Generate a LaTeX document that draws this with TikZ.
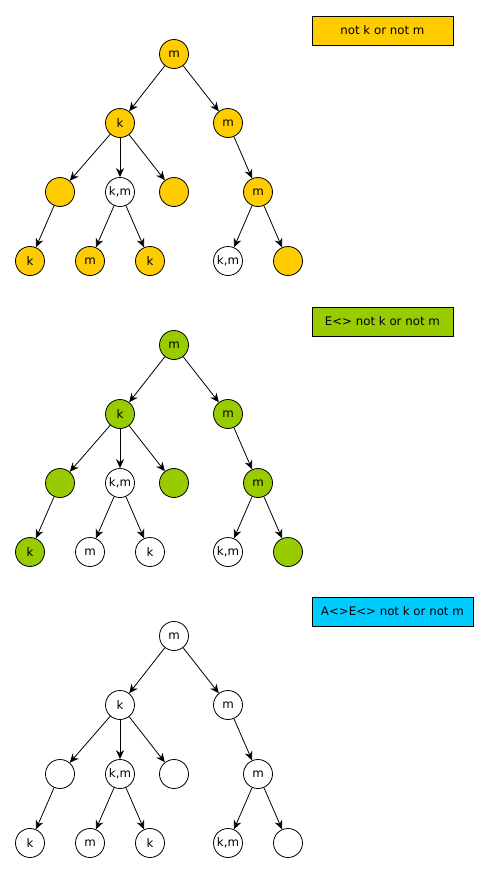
\documentclass[tikz,border=0pt]{standalone}
\usepackage{fontspec}
\setmainfont{DejaVu Sans}
\usetikzlibrary{arrows.meta}
\definecolor{amber}{HTML}{FFCC00}
\definecolor{lime}{HTML}{99CC00}
\definecolor{sky}{HTML}{00CCFF}
\tikzset{
  nd/.style={circle, draw=black, line width=0.8pt, fill=white, minimum size=29pt, inner sep=0pt, font=\fontsize{11.8}{13}\selectfont},
  hl/.style={fill=white},
  arr/.style={draw=black, line width=0.8pt, -{Stealth[length=9pt,width=8pt]}},
  tag/.style={draw=black, line width=0.8pt, minimum height=29pt, inner sep=0pt, font=\fontsize{11.8}{13}\selectfont, anchor=west}
}
% one tree: prefix, vertical offset
\newcommand{\drawfulltree}[2]{%
  \begin{scope}[yshift=-#2pt]
    \node[nd,hl] (#1r)  at (174,54) {m};
    \node[nd,hl] (#1a)  at (120,123) {k};
    \node[nd,hl] (#1b)  at (228,123) {m};
    \node[nd,hl] (#1c)  at (60,192) {};
    \node[nd]    (#1d)  at (120,192) {k,m};
    \node[nd,hl] (#1e)  at (174,192) {};
    \node[nd,hl] (#1f)  at (258,192) {m};
    \node[nd,hlA] (#1g) at (30,261) {k};
    \node[nd,hlB] (#1h) at (90,261) {m};
    \node[nd,hlB] (#1i) at (150,261) {k};
    \node[nd]    (#1j)  at (228,261) {k,m};
    \node[nd,hl] (#1k)  at (288,261) {};
    \draw[arr] (#1r) -- (#1a);
    \draw[arr] (#1r) -- (#1b);
    \draw[arr] (#1a) -- (#1c);
    \draw[arr] (#1a) -- (#1d);
    \draw[arr] (#1a) -- (#1e);
    \draw[arr] (#1b) -- (#1f);
    \draw[arr] (#1c) -- (#1g);
    \draw[arr] (#1d) -- (#1h);
    \draw[arr] (#1d) -- (#1i);
    \draw[arr] (#1f) -- (#1j);
    \draw[arr] (#1f) -- (#1k);
  \end{scope}}
\begin{document}
\begin{tikzpicture}[x=1pt, y=-1pt]
  \useasboundingbox (0,0) rectangle (488,873);
  \fill[white] (0,0) rectangle (488,873);

  % first tree
  \begin{scope}[hl/.style={fill=amber}, hlA/.style={fill=amber}, hlB/.style={fill=amber}]
    \drawfulltree{p}{0}
  \end{scope}
  \node[tag, fill=amber, minimum width=141pt] (t1) at (311.5,30.5) {not k or not m};

  % second tree
  \begin{scope}[hl/.style={fill=lime}, hlA/.style={fill=lime}, hlB/.style={fill=white}]
    \drawfulltree{q}{291}
  \end{scope}
  \node[tag, fill=lime, minimum width=141pt] (t2) at (311.5,321.5) {E<> not k or not m};

  % third tree
  \begin{scope}[hl/.style={fill=white}, hlA/.style={fill=white}, hlB/.style={fill=white}]
    \drawfulltree{s}{582}
  \end{scope}
  \node[tag, fill=sky, minimum width=161pt] (t3) at (311.5,611.5) {A<>E<> not k or not m};
\end{tikzpicture}
\end{document}
